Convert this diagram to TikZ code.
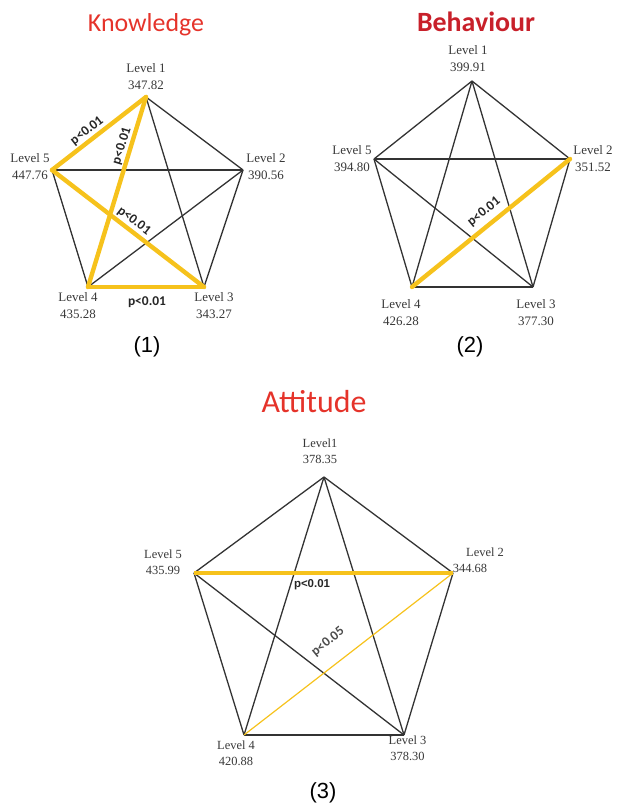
\documentclass[tikz,border=0pt]{standalone}
\usepackage{fontspec}
\setmainfont{Liberation Serif}
\setsansfont{Liberation Sans}
\newfontfamily\titlefont{Carlito}
\usepackage{xcolor}
\usepackage{tikz}
\usetikzlibrary{positioning}

\definecolor{sigyellow}{HTML}{F6C21C}
\definecolor{edgegray}{HTML}{333333}
\definecolor{titlered}{HTML}{E5332A}
\definecolor{titledark}{HTML}{C8202A}

\begin{document}
\begin{tikzpicture}[x=1bp,y=-1bp,
  edge/.style={edgegray,line width=1.3bp},
  sig/.style={sigyellow,line width=4.4bp},
  weak/.style={sigyellow,line width=1.2bp},
  lvl/.style={font=\fontsize{13}{17}\selectfont,text=black!78,align=center,inner sep=0pt},
  lvlsm/.style={font=\fontsize{12.5}{16}\selectfont,text=black!78,align=center,inner sep=0pt},
  plab/.style={font=\titlefont\bfseries\fontsize{13.5}{14}\selectfont,text=black!85,inner sep=0pt},
  ttl/.style={font=\titlefont\fontsize{26}{30}\selectfont,inner sep=0pt},
  panelcap/.style={font=\sffamily\fontsize{22}{24}\selectfont,inner sep=0pt}]
\useasboundingbox (0,0) rectangle (617,807);

% (1) knowledge
\coordinate (k1) at (146,97);
\coordinate (k2) at (243,170);
\coordinate (k3) at (204,287);
\coordinate (k4) at (88,287);
\coordinate (k5) at (52,170);
\foreach \a/\b in {1/2,1/3,2/3,2/4,2/5,4/5}
  \draw[edge] (k\a) -- (k\b);
\foreach \a/\b in {1/5,1/4,5/3,4/3}
  \draw[sig,line cap=round] (k\a) -- (k\b);
\node[ttl,text=titlered] (ktitle) at (146,25) {Knowledge};
\node[lvl] (k1l) at (146,76.5) {Level 1\\347.82};
\node[lvl] (k2l) at (266,167) {Level 2\\390.56};
\node[lvl] (k3l) at (214,306) {Level 3\\343.27};
\node[lvl] (k4l) at (78,306) {Level 4\\435.28};
\node[lvl] (k5l) at (30,167) {Level 5\\447.76};
\node[plab,rotate=37.8] (kp15) at (87,131) {p<0.01};
\node[plab,rotate=73] (kp14) at (122,146) {p<0.01};
\node[plab,rotate=-37.6] (kp53) at (134,221) {p<0.01};
\node[plab] (kp43) at (147,302) {p<0.01};
\node[panelcap] (kcap) at (147,347) {(1)};

% (2) behaviour
\coordinate (b1) at (472,81);
\coordinate (b2) at (570,159);
\coordinate (b3) at (533,287);
\coordinate (b4) at (412,287);
\coordinate (b5) at (374,159);
\foreach \a/\b in {1/2,1/3,1/4,1/5,2/3,2/5,3/4,3/5,4/5}
  \draw[edge] (b\a) -- (b\b);
\draw[sig,line cap=round] (b4) -- (b2);
\node[ttl,font=\titlefont\bfseries\fontsize{28}{30}\selectfont,text=titledark] (btitle) at (476,22) {Behaviour};
\node[lvl] (b1l) at (468,58.5) {Level 1\\399.91};
\node[lvl] (b2l) at (593,159) {Level 2\\351.52};
\node[lvl] (b3l) at (536,312.5) {Level 3\\377.30};
\node[lvl] (b4l) at (401,312.5) {Level 4\\426.28};
\node[lvl] (b5l) at (352,159) {Level 5\\394.80};
\node[plab,rotate=39] (bp42) at (484,212) {p<0.01};
\node[panelcap] (bcap) at (470,347) {(2)};

% (3) attitude
\coordinate (a1) at (324,477);
\coordinate (a2) at (453,573);
\coordinate (a3) at (404,735);
\coordinate (a4) at (244,735);
\coordinate (a5) at (194,573);
\foreach \a/\b in {1/2,1/3,1/4,1/5,2/3,3/4,3/5,4/5}
  \draw[edge] (a\a) -- (a\b);
\draw[weak] (a4) -- (a2);
\draw[sig] (a5) -- (a2);
\node[ttl,font=\titlefont\fontsize{32}{34}\selectfont,text=titlered] (atitle) at (314,402) {Attitude};
\node[lvlsm] (a1l) at (320,451.5) {Level1\\378.35};
\node[lvlsm] (a2l) at (485,552) {Level 2};
\node[lvlsm] (a2v) at (470,568) {344.68};
\node[lvlsm] (a3l) at (407.5,748) {Level 3\\378.30};
\node[lvlsm] (a4l) at (236,753) {Level 4\\420.88};
\node[lvlsm] (a5l) at (163,562.5) {Level 5\\435.99};
\node[plab,font=\sffamily\bfseries\fontsize{11.5}{12}\selectfont] (ap52) at (312,585) {p<0.01};
\node[plab,text=black!70,rotate=39] (ap42) at (328,642) {p<0.05};
\node[panelcap] (acap) at (323,793) {(3)};
\end{tikzpicture}
\end{document}
